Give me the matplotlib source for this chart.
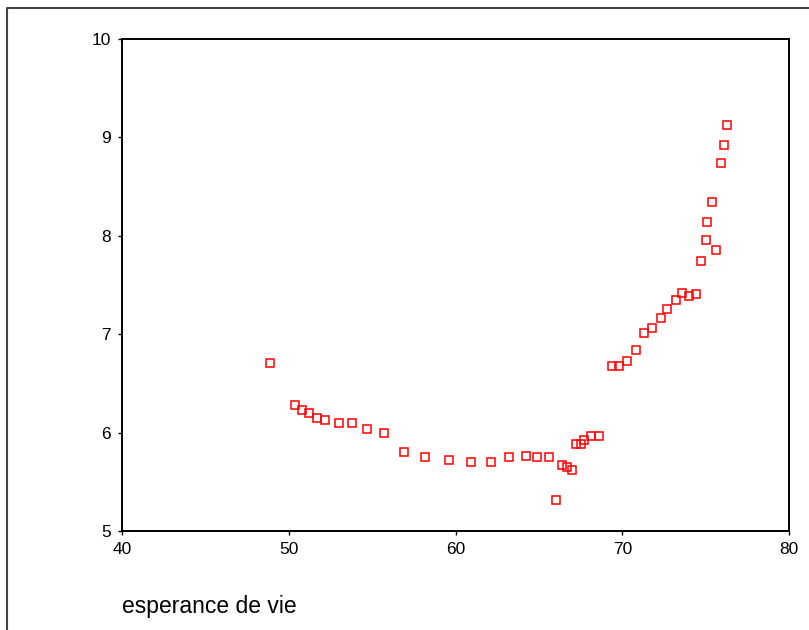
import matplotlib
matplotlib.use("Agg")
import matplotlib.pyplot as plt
from matplotlib.lines import Line2D

plt.rcParams["font.family"] = ["Liberation Sans", "DejaVu Sans"]

# life expectancy (x) against the plotted variable (y)
esperance = [
    48.9, 50.4, 50.8, 51.2, 51.7, 52.2, 53.0, 53.8, 54.7, 55.7,
    56.9, 58.2, 59.6, 60.9, 62.1, 63.2, 64.2, 64.9, 65.6, 66.0,
    66.4, 66.7, 67.0, 67.2, 67.5, 67.7, 68.1, 68.6, 69.4, 69.8,
    70.3, 70.8, 71.3, 71.8, 72.3, 72.7, 73.2, 73.6, 74.0, 74.4,
    74.7, 75.0, 75.6, 75.1, 75.4, 75.9, 76.1, 76.3,
]
valeur = [
    6.71, 6.28, 6.23, 6.20, 6.15, 6.13, 6.10, 6.10, 6.04, 6.00,
    5.80, 5.75, 5.72, 5.70, 5.70, 5.75, 5.76, 5.75, 5.75, 5.32,
    5.67, 5.65, 5.62, 5.88, 5.88, 5.93, 5.97, 5.97, 6.68, 6.68,
    6.73, 6.84, 7.01, 7.06, 7.16, 7.26, 7.35, 7.42, 7.39, 7.41,
    7.74, 7.96, 7.86, 8.14, 8.34, 8.74, 8.92, 9.13,
]
x_ticks = [40, 50, 60, 70, 80]
y_ticks = [5, 6, 7, 8, 9, 10]

fig = plt.figure(figsize=(8.09, 6.30), dpi=100)
ax = fig.add_axes([0.1508, 0.1571, 0.8245, 0.781])

ax.plot(esperance, valeur, linestyle="none", marker="s", markersize=6,
        markerfacecolor="none", markeredgecolor="#ff0000", markeredgewidth=1.1)

ax.set_xlim(40, 80)
ax.set_ylim(5, 10)
ax.set_xticks(x_ticks)
ax.set_yticks(y_ticks)
ax.tick_params(direction="out", length=3, width=1, pad=5, labelsize=12.5,
               colors="black")
for s in ax.spines.values():
    s.set_linewidth(1.4)
    s.set_color("black")

fig.text(122 / 809, 1 - 606 / 630, "esperance de vie", fontsize=16.5,
         ha="left", va="center")

# outer frame (left and top edges)
fig.add_artist(Line2D([7 / 809, 7 / 809, 1.01], [-0.01, 1 - 8 / 630, 1 - 8 / 630],
                      transform=fig.transFigure, color="#444444", linewidth=1.5))

fig.savefig("out.png", dpi=100)
